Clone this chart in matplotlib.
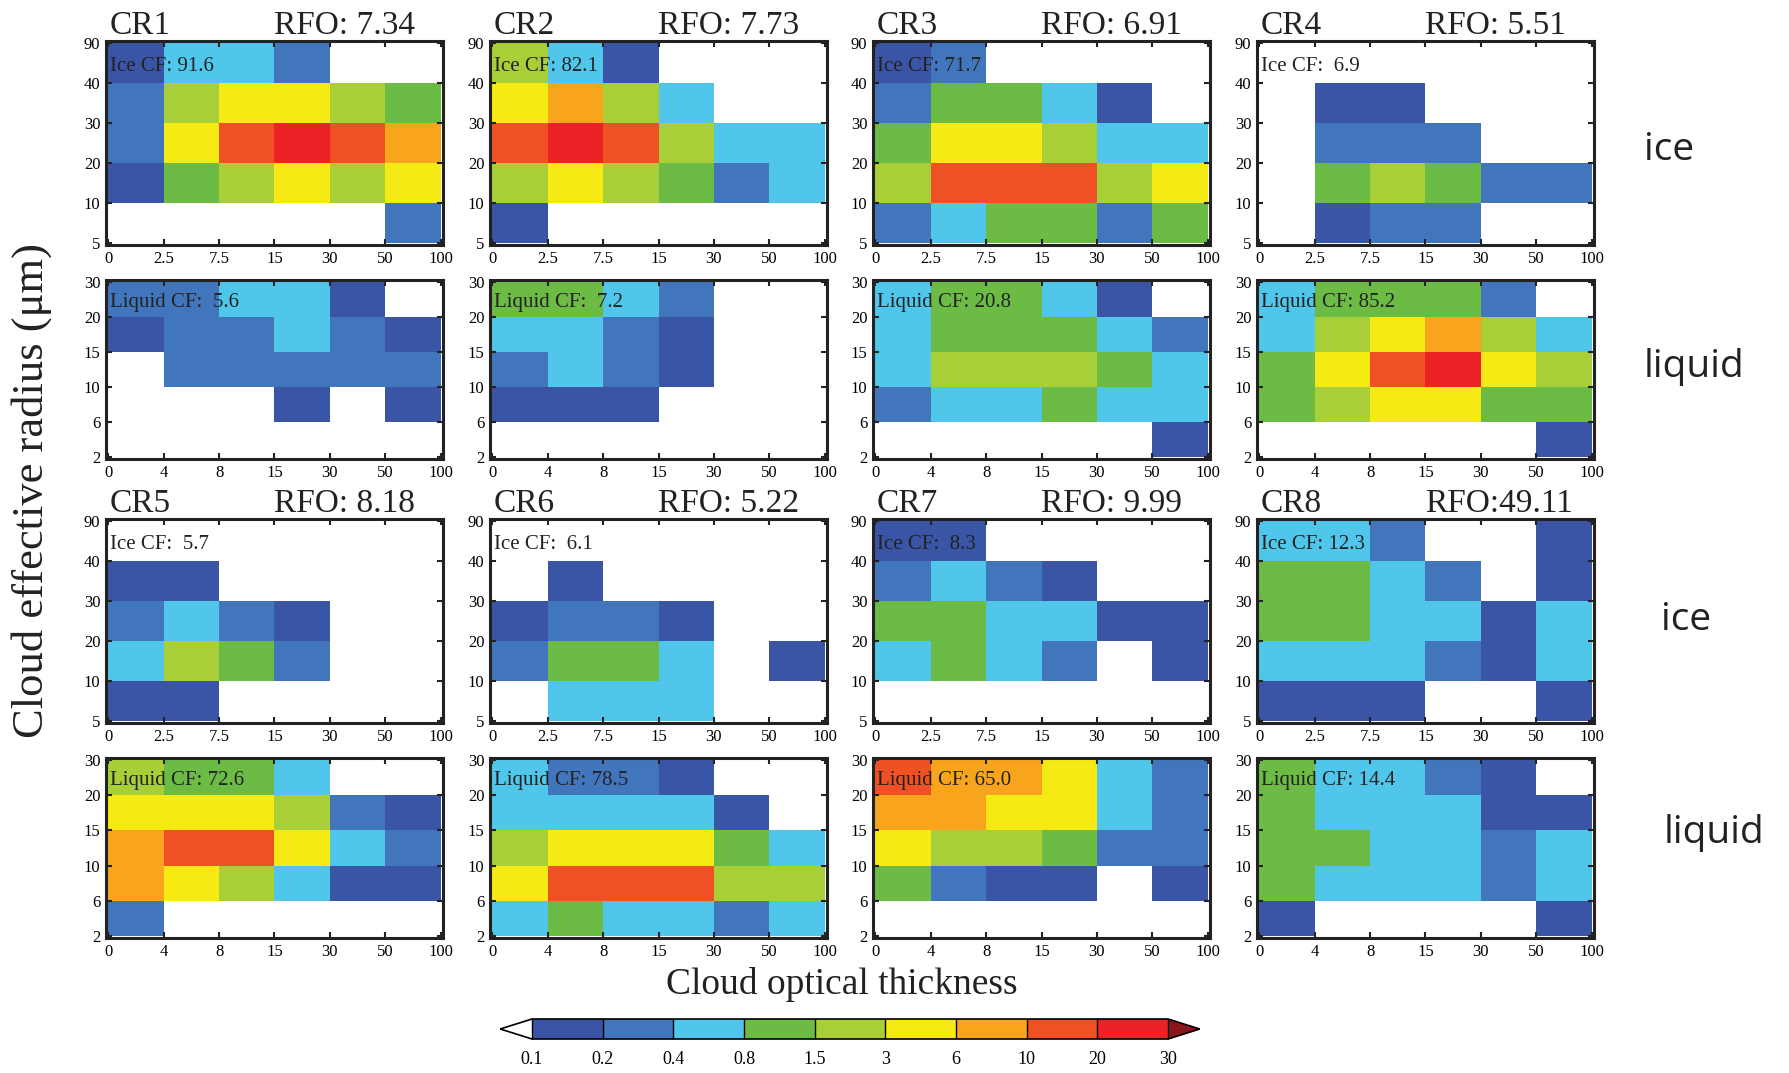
import numpy as np
import matplotlib
matplotlib.use('Agg')
import matplotlib.pyplot as plt
from matplotlib.colors import ListedColormap, BoundaryNorm

plt.rcParams['font.family'] = ['Liberation Serif', 'DejaVu Serif']

## Bins and colour levels
tau_ice = ['0', '2.5', '7.5', '15', '30', '50', '100']
tau_liq = ['0', '4', '8', '15', '30', '50', '100']
re_ice = ['5', '10', '20', '30', '40', '90']
re_liq = ['2', '6', '10', '15', '20', '30']
levels = [0.1, 0.2, 0.4, 0.8, 1.5, 3, 6, 10, 20, 30]
level_labels = ['0.1', '0.2', '0.4', '0.8', '1.5', '3', '6', '10', '20', '30']
colors = ['#3A55A6', '#4276BC', '#50C6EA', '#6BBB45', '#A8CF38',
          '#F5EA14', '#F8A41C', '#F05124', '#EC2227']

## Regime names, RFO and cloud fractions
regimes = ['CR1', 'CR2', 'CR3', 'CR4', 'CR5', 'CR6', 'CR7', 'CR8']
rfo = ['RFO: 7.34', 'RFO: 7.73', 'RFO: 6.91', 'RFO: 5.51',
       'RFO: 8.18', 'RFO: 5.22', 'RFO: 9.99', 'RFO:49.11']
ice_cf = [91.6, 82.1, 71.7, 6.9, 5.7, 6.1, 8.3, 12.3]
liq_cf = [5.6, 7.2, 20.8, 85.2, 72.6, 78.5, 65.0, 14.4]

## Histograms (%), rows listed from top (largest radius) to bottom
ice_cr1 = [[0.15, 0.6, 0.6, 0.3, 0, 0],
           [0.3, 2.0, 4.0, 4.0, 2.0, 1.0],
           [0.3, 4.0, 15, 25, 15, 8.0],
           [0.15, 1.0, 2.0, 4.0, 2.0, 4.0],
           [0, 0, 0, 0, 0, 0.3]]
liq_cr1 = [[0.3, 0.3, 0.6, 0.6, 0.15, 0],
           [0.15, 0.3, 0.3, 0.6, 0.3, 0.15],
           [0, 0.3, 0.3, 0.3, 0.3, 0.3],
           [0, 0, 0, 0.15, 0, 0.15],
           [0, 0, 0, 0, 0, 0]]
ice_cr2 = [[2.0, 0.6, 0.15, 0, 0, 0],
           [4.0, 8.0, 2.0, 0.6, 0, 0],
           [15, 25, 15, 2.0, 0.6, 0.6],
           [2.0, 4.0, 2.0, 1.0, 0.3, 0.6],
           [0.15, 0, 0, 0, 0, 0]]
liq_cr2 = [[1.0, 1.0, 0.6, 0.3, 0, 0],
           [0.6, 0.6, 0.3, 0.15, 0, 0],
           [0.3, 0.6, 0.3, 0.15, 0, 0],
           [0.15, 0.15, 0.15, 0, 0, 0],
           [0, 0, 0, 0, 0, 0]]
ice_cr3 = [[0.15, 0.3, 0, 0, 0, 0],
           [0.3, 1.0, 1.0, 0.6, 0.15, 0],
           [1.0, 4.0, 4.0, 2.0, 0.6, 0.6],
           [2.0, 15, 15, 15, 2.0, 4.0],
           [0.3, 0.6, 1.0, 1.0, 0.3, 1.0]]
liq_cr3 = [[0.6, 1.0, 1.0, 0.6, 0.15, 0],
           [0.6, 1.0, 1.0, 1.0, 0.6, 0.3],
           [0.6, 2.0, 2.0, 2.0, 1.0, 0.6],
           [0.3, 0.6, 0.6, 1.0, 0.6, 0.6],
           [0, 0, 0, 0, 0, 0.15]]
ice_cr4 = [[0, 0, 0, 0, 0, 0],
           [0, 0.15, 0.15, 0, 0, 0],
           [0, 0.3, 0.3, 0.3, 0, 0],
           [0, 1.0, 2.0, 1.0, 0.3, 0.3],
           [0, 0.15, 0.3, 0.3, 0, 0]]
liq_cr4 = [[0.6, 1.0, 1.0, 1.0, 0.3, 0],
           [0.6, 2.0, 4.0, 8.0, 2.0, 0.6],
           [1.0, 4.0, 15, 25, 4.0, 2.0],
           [1.0, 2.0, 4.0, 4.0, 1.0, 1.0],
           [0, 0, 0, 0, 0, 0.15]]
ice_cr5 = [[0, 0, 0, 0, 0, 0],
           [0.15, 0.15, 0, 0, 0, 0],
           [0.3, 0.6, 0.3, 0.15, 0, 0],
           [0.6, 2.0, 1.0, 0.3, 0, 0],
           [0.15, 0.15, 0, 0, 0, 0]]
liq_cr5 = [[2.0, 1.0, 1.0, 0.6, 0, 0],
           [4.0, 4.0, 4.0, 2.0, 0.3, 0.15],
           [8.0, 15, 15, 4.0, 0.6, 0.3],
           [8.0, 4.0, 2.0, 0.6, 0.15, 0.15],
           [0.3, 0, 0, 0, 0, 0]]
ice_cr6 = [[0, 0, 0, 0, 0, 0],
           [0, 0.15, 0, 0, 0, 0],
           [0.15, 0.3, 0.3, 0.15, 0, 0],
           [0.3, 1.0, 1.0, 0.6, 0, 0.15],
           [0, 0.6, 0.6, 0.6, 0, 0]]
liq_cr6 = [[0.6, 0.3, 0.3, 0.15, 0, 0],
           [0.6, 0.6, 0.6, 0.6, 0.15, 0],
           [2.0, 4.0, 4.0, 4.0, 1.0, 0.6],
           [4.0, 15, 15, 15, 2.0, 2.0],
           [0.6, 1.0, 0.6, 0.6, 0.3, 0.6]]
ice_cr7 = [[0.15, 0.15, 0, 0, 0, 0],
           [0.3, 0.6, 0.3, 0.15, 0, 0],
           [1.0, 1.0, 0.6, 0.6, 0.15, 0.15],
           [0.6, 1.0, 0.6, 0.3, 0, 0.15],
           [0, 0, 0, 0, 0, 0]]
liq_cr7 = [[15, 8.0, 8.0, 4.0, 0.6, 0.3],
           [8.0, 8.0, 4.0, 4.0, 0.6, 0.3],
           [4.0, 2.0, 2.0, 1.0, 0.3, 0.3],
           [1.0, 0.3, 0.15, 0.15, 0, 0.15],
           [0, 0, 0, 0, 0, 0]]
ice_cr8 = [[0.6, 0.6, 0.3, 0, 0, 0.15],
           [1.0, 1.0, 0.6, 0.3, 0, 0.15],
           [1.0, 1.0, 0.6, 0.6, 0.15, 0.6],
           [0.6, 0.6, 0.6, 0.3, 0.15, 0.6],
           [0.15, 0.15, 0.15, 0, 0, 0.15]]
liq_cr8 = [[1.0, 0.6, 0.6, 0.3, 0.15, 0],
           [1.0, 0.6, 0.6, 0.6, 0.15, 0.15],
           [1.0, 1.0, 0.6, 0.6, 0.3, 0.6],
           [1.0, 0.6, 0.6, 0.6, 0.3, 0.6],
           [0.15, 0, 0, 0, 0, 0.15]]

ice_hists = [ice_cr1, ice_cr2, ice_cr3, ice_cr4, ice_cr5, ice_cr6, ice_cr7, ice_cr8]
liq_hists = [liq_cr1, liq_cr2, liq_cr3, liq_cr4, liq_cr5, liq_cr6, liq_cr7, liq_cr8]

cmap = ListedColormap(colors)
cmap.set_under('white')
cmap.set_over('#8A1619')
norm = BoundaryNorm(levels, cmap.N)

W, H = 1790, 1073
fig = plt.figure(figsize=(W / 100, H / 100), dpi=100)

col_left = [106, 490, 873, 1257]
panel_w = 337
# (top, height) in pixels for ice / liquid rows of the two blocks
row_ice = [(41, 204), (519, 204)]
row_liq = [(280, 179), (758, 180)]


def px_axes(left, top, w, h):
    return fig.add_axes([left / W, 1 - (top + h) / H, w / W, h / H])


def draw_panel(ax, data, xlabels, ylabels, label):
    arr = np.array(data, dtype=float)[::-1]
    ax.pcolormesh(np.arange(7), np.arange(6), arr, cmap=cmap, norm=norm)
    ax.set_xlim(-0.04, 6.04)
    ax.set_ylim(-0.06, 5.06)
    ax.set_xticks(np.arange(7))
    ax.set_xticklabels(xlabels)
    ax.set_yticks(np.arange(6))
    ax.set_yticklabels(ylabels)
    ax.tick_params(direction='in', top=True, right=True, length=4, width=1.5,
                   labelsize=12, pad=4, color='#222222')
    for s in ax.spines.values():
        s.set_linewidth(2.2)
        s.set_color('#222222')
    ax.text(0.012, 0.875, label, transform=ax.transAxes, fontsize=15,
            va='center', ha='left', color='#222222')


for k in range(8):
    blk, col = divmod(k, 4)
    left = col_left[col]
    top, h = row_ice[blk]
    ax = px_axes(left, top, panel_w, h)
    draw_panel(ax, ice_hists[k], tau_ice, re_ice, 'Ice CF: %4.1f' % ice_cf[k])
    ax.text(0.01, 1.035, regimes[k], transform=ax.transAxes, fontsize=24,
            va='baseline', ha='left', color='#222222')
    ax.text(0.50, 1.035, rfo[k], transform=ax.transAxes, fontsize=24,
            va='baseline', ha='left', color='#222222')
    top, h = row_liq[blk]
    ax = px_axes(left, top, panel_w, h)
    draw_panel(ax, liq_hists[k], tau_liq, re_liq, 'Liquid CF: %4.1f' % liq_cf[k])

# Phase labels on the right
side = dict(family=['Open Sans', 'DejaVu Sans'], fontsize=28, color='#222222',
            va='center', ha='left')
fig.text(1644 / W, 1 - 150 / H, 'ice', **side)
fig.text(1644 / W, 1 - 367 / H, 'liquid', **side)
fig.text(1661 / W, 1 - 620 / H, 'ice', **side)
fig.text(1664 / W, 1 - 833 / H, 'liquid', **side)

# Axis titles
fig.text(32 / W, 1 - 490 / H, 'Cloud effective radius (μm)', rotation=90,
         fontsize=32, va='center', ha='center', color='#222222')
fig.text(842 / W, 1 - 985 / H, 'Cloud optical thickness', fontsize=27,
         va='center', ha='center', color='#222222')

# Colour bar (axes covers the interior; triangles sit outside it)
cax = px_axes(532, 1019, 636, 20)
cb = fig.colorbar(plt.cm.ScalarMappable(norm=norm, cmap=cmap), cax=cax,
                  orientation='horizontal', extend='both', extendfrac=0.05,
                  drawedges=True, ticks=levels)
cb.ax.set_xticklabels(level_labels)
cb.ax.tick_params(length=0, labelsize=13, pad=9)
cb.outline.set_linewidth(1.2)
cb.dividers.set_linewidth(1.0)
# stretch so interior spans the measured bar width
pos = cax.get_position()
frac = 0.05
new_w = pos.width * (1 + 2 * frac)
cax.set_position([pos.x0 - pos.width * frac, pos.y0, new_w, pos.height])

fig.savefig('out.png', dpi=100)
